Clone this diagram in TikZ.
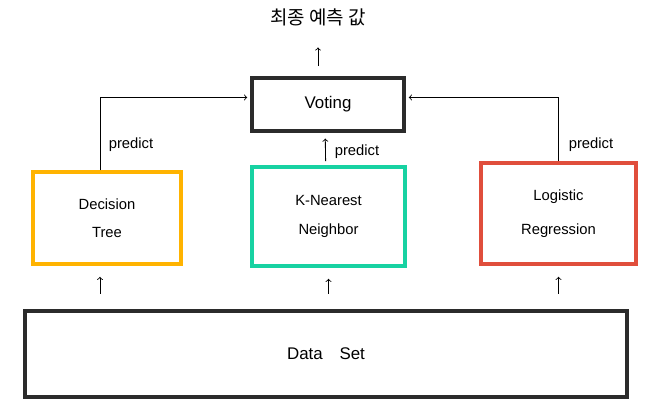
\documentclass[tikz,border=0pt]{standalone}
\usepackage{fontspec}
\setmainfont{Liberation Sans}
\newfontfamily\kor{Noto Sans CJK KR}
\usetikzlibrary{positioning}

\definecolor{boxdark}{HTML}{2B2B2B}
\definecolor{treeorange}{HTML}{FFB300}
\definecolor{knnteal}{HTML}{17D2A2}
\definecolor{logred}{HTML}{E04E3C}

\tikzset{
    model/.style={draw, line width=2.2pt, align=center, inner sep=0pt, font=\fontsize{10.5}{12}\selectfont},
    darkbox/.style={draw=boxdark, line width=2.8pt, inner sep=0pt, font=\fontsize{12}{14}\selectfont},
    flow/.style={->, line width=0.6pt},
    lbl/.style={font=\fontsize{10.5}{12}\selectfont}
}

\begin{document}
\begin{tikzpicture}[x=0.025cm, y=-0.025cm]
    \useasboundingbox (0, 0) rectangle (659, 412);

    % final output and voting
    \node[font=\fontsize{13.5}{15}\selectfont] (final) at (318, 17) {\kor 최종 예측 값};
    \node[darkbox, minimum width=3.8cm, minimum height=1.325cm] (vote) at (328, 104.5) {Voting};

    % the three models
    \node[model, draw=treeorange, minimum width=3.7cm, minimum height=2.3cm] (tree) at (107, 218) {Decision\\[8pt]Tree};
    \node[model, draw=knnteal, minimum width=3.825cm, minimum height=2.475cm] (knn) at (328.5, 216.5) {K-Nearest\\[8pt]Neighbor};
    \node[model, draw=logred, minimum width=3.875cm, minimum height=2.525cm] (logit) at (558.5, 213.5) {Logistic\\[12pt]Regression};

    % data
    \node[darkbox, minimum width=15.05cm, minimum height=2.15cm] (data) at (326, 354) {Data\quad Set};

    \draw[flow, shorten <=7pt, shorten >=12pt] (vote.north -| final.south) -- (final.south);

    \draw[flow, shorten >=2pt] ([xshift=-5pt]tree.north) |- ([yshift=5pt]vote.west);
    \draw[flow, shorten >=2pt] (logit.north) |- ([yshift=5pt]vote.east);
    \draw[flow, shorten <=3pt, shorten >=4pt] ([xshift=-2pt]knn.north) -- ([xshift=-2pt]vote.south);

    \node[lbl] at (131, 145) {predict};
    \node[lbl] at (357, 152) {predict};
    \node[lbl] at (591, 145) {predict};

    \foreach \m/\dx in {tree/-5pt, knn/0pt, logit/0pt}
        \draw[flow, shorten <=11pt, shorten >=8pt] ([xshift=\dx]data.north -| \m) -- ([xshift=\dx]\m.south);

\end{tikzpicture}
\end{document}
